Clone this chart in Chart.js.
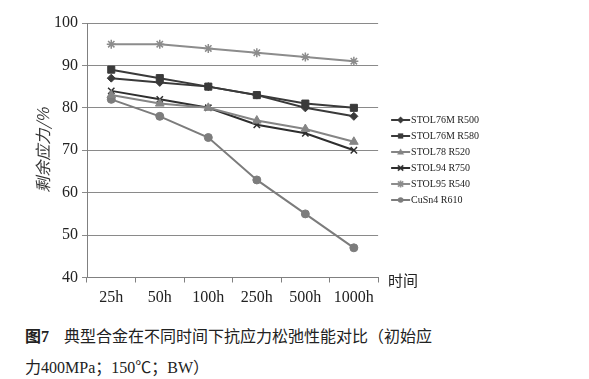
<!DOCTYPE html>
<html><head><meta charset="utf-8">
<script src="https://cdn.jsdelivr.net/npm/chart.js@4/dist/chart.umd.min.js"></script>
<style>
html,body{margin:0;padding:0;background:#fff;width:589px;height:379px;overflow:hidden;position:relative;}
#c{position:absolute;left:0;top:0;}
.t{position:absolute;white-space:nowrap;color:#222;line-height:1;}
</style></head><body>
<canvas id="c" width="589" height="320"></canvas>
<div class="t" style="left:388px;top:272px;font-size:15px;font-family:'Noto Sans CJK SC';">时间</div>
<div class="t" style="left:25px;top:327px;font-size:16px;font-family:'Liberation Serif','Noto Sans CJK SC';"><b>图7</b><span style="margin-left:15px;font-family:'Noto Sans CJK SC';">典型合金在不同时间下抗应力松弛性能对比（初始应</span></div>
<div class="t" style="left:25px;top:360px;font-size:16px;font-family:'Liberation Serif','Noto Sans CJK SC';">力400MPa；150℃；BW）</div>
<script>
const categories = ['25h','50h','100h','250h','500h','1000h'];
const seriesNames = ['STOL76M R500','STOL76M R580','STOL78 R520','STOL94 R750','STOL95 R540','CuSn4 R610'];
const stol76mR500 = [87,86,85,83,80,78];
const stol76mR580 = [89,87,85,83,81,80];
const stol78R520  = [83,81,80,77,75,72];
const stol94R750  = [84,82,80,76,74,70];
const stol95R540  = [95,95,94,93,92,91];
const cusn4R610   = [82,78,73,63,55,47];
const yMin = 40, yMax = 100, yStep = 10;

const seriesData = [stol76mR500, stol76mR580, stol78R520, stol94R750, stol95R540, cusn4R610];
const colors = ['#3a3a3a','#3a3a3a','#858585','#2e2e2e','#8c8c8c','#7c7c7c'];
const styles = ['rectRot','rect','triangle','crossRot','star','circle'];
const radii = [4,5,5,4.5,4.5,4];

function drawMarker(ctx, style, x, y, r, color){
  ctx.save();
  ctx.fillStyle=color; ctx.strokeStyle=color; ctx.lineWidth=1.5;
  ctx.beginPath();
  if(style==='rectRot'){ctx.moveTo(x,y-r);ctx.lineTo(x+r,y);ctx.lineTo(x,y+r);ctx.lineTo(x-r,y);ctx.closePath();ctx.fill();}
  else if(style==='rect'){const s=r*0.75;ctx.rect(x-s,y-s,2*s,2*s);ctx.fill();}
  else if(style==='triangle'){ctx.moveTo(x,y-r);ctx.lineTo(x+r,y+r*0.7);ctx.lineTo(x-r,y+r*0.7);ctx.closePath();ctx.fill();}
  else if(style==='crossRot'){const s=r*0.75;ctx.moveTo(x-s,y-s);ctx.lineTo(x+s,y+s);ctx.moveTo(x+s,y-s);ctx.lineTo(x-s,y+s);ctx.stroke();}
  else if(style==='star'){const s=r*0.75;ctx.moveTo(x-s,y-s);ctx.lineTo(x+s,y+s);ctx.moveTo(x+s,y-s);ctx.lineTo(x-s,y+s);ctx.moveTo(x,y-r);ctx.lineTo(x,y+r);ctx.stroke();}
  else {ctx.arc(x,y,r*0.8,0,Math.PI*2);ctx.fill();}
  ctx.restore();
}
const legendIcons = styles.map((s,i)=>{
  const c=document.createElement('canvas'); c.width=44; c.height=12;
  const g=c.getContext('2d');
  g.strokeStyle=colors[i]; g.lineWidth=2;
  g.beginPath(); g.moveTo(18,6); g.lineTo(37,6); g.stroke();
  drawMarker(g,s,27.5,6,3.5,colors[i]);
  return c;
});

const datasets = seriesData.map((d,i)=>({
  label: seriesNames[i], data: d,
  borderColor: colors[i], backgroundColor: colors[i],
  borderWidth: 2, pointStyle: styles[i], pointRadius: radii[i],
  pointBackgroundColor: colors[i], pointBorderColor: colors[i],
  pointBorderWidth: (styles[i]==='crossRot'||styles[i]==='star')?1.5:1,
  tension: 0, fill: false
}));

const serif = "'Liberation Serif', 'Times New Roman', serif";
new Chart(document.getElementById('c'), {
  type: 'line',
  data: { labels: categories, datasets },
  options: {
    responsive: false, animation: false, devicePixelRatio: 1,
    layout: { padding: { top: 23, bottom: 0, left: 0, right: 100 } },
    plugins: {
      tooltip: { enabled: false },
      legend: {
        position: 'right', align: 'start',
        title: { display: true, text: '', font: { size: 10 }, padding: { top: 74, bottom: 0 } },
        labels: {
          usePointStyle: true, pointStyleWidth: 22, padding: 6,
          color: '#222', font: { family: serif, size: 10 },
          generateLabels: (chart) => chart.data.datasets.map((ds,i)=>({
            text: ds.label, fillStyle: ds.borderColor, strokeStyle: ds.borderColor,
            lineWidth: 0, pointStyle: legendIcons[i], hidden: false, datasetIndex: i, fontColor: '#222'
          }))
        }
      }
    },
    scales: {
      x: {
        offset: true,
        grid: { offset: true, drawOnChartArea: false, drawTicks: true, tickLength: 5, color: '#808080' },
        border: { color: '#808080', width: 1 },
        ticks: { color: '#222', font: { family: serif, size: 16 }, padding: 6, maxRotation: 0 },
        afterFit: (s) => { s.height = 42.5; }
      },
      y: {
        min: yMin, max: yMax,
        ticks: { stepSize: yStep, color: '#222', font: { family: serif, size: 16 }, padding: 4 },
        grid: { color: '#8a8a8a', lineWidth: 1, tickLength: 5 },
        border: { color: '#808080', width: 1 },
        title: { display: true, text: '剩余应力/%', color: '#333',
          font: { family: "'Noto Sans CJK SC'", size: 16, style: 'italic' }, padding: { top: 33, bottom: 0 } },
        afterFit: (s) => { s.width = 87; }
      }
    }
  }
});
</script>
</body></html>
